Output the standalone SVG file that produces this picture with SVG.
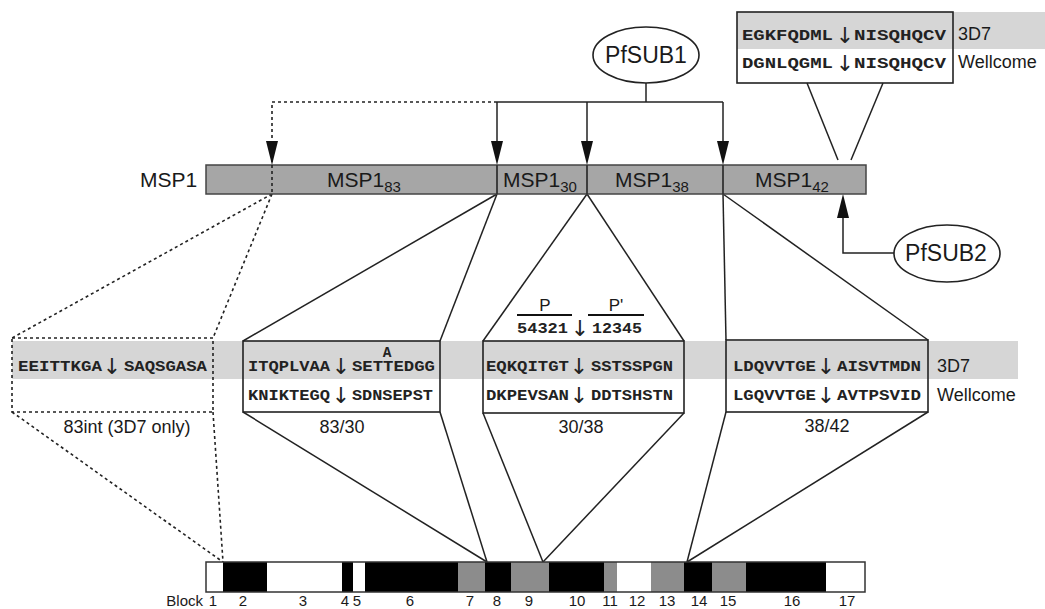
<svg xmlns="http://www.w3.org/2000/svg" width="1045" height="609" viewBox="0 0 1045 609">
<defs>
<style>
.lbl{font-family:"Liberation Sans",Arial,sans-serif;fill:#1a1a1a}
.seq{font-family:"Liberation Mono","Courier New",monospace;font-weight:bold;font-size:14.5px;fill:#222}
.arr{font-family:"DejaVu Sans","Liberation Sans",sans-serif;font-size:22px;fill:#222;text-anchor:middle}
.ln{stroke:#222;stroke-width:1.5;fill:none}
.dl{stroke:#222;stroke-width:1.6;fill:none;stroke-dasharray:3,3}
.box{fill:none;stroke:#222;stroke-width:1.6}
.band{fill:#d6d6d6}
.seg{fill:#a6a6a6;stroke:#444;stroke-width:1.5}
.ell{fill:#fff;stroke:#222;stroke-width:1.6}
.blk{stroke:none}
.k{fill:#000}.w{fill:#fff}.g{fill:#8c8c8c}
.bn{font-family:"Liberation Sans",Arial,sans-serif;font-size:15px;fill:#1a1a1a;text-anchor:middle}
.bt{font-family:"Liberation Sans",Arial,sans-serif;font-size:15px;fill:#1a1a1a;text-anchor:end}
</style>
</defs>
<rect width="1045" height="609" fill="#fff"/>

<rect class="band" x="737" y="12" width="308" height="37"/>
<rect class="band" x="12" y="341" width="1006" height="38"/>

<g id="connectors">
  <path class="ln" d="M646,83 V102"/>
  <path class="ln" d="M497,102 H723"/>
  <path class="dl" d="M497,102 H272 V165"/>
  <path d="M266,141 L278,141 L272,165 Z" fill="#111"/>
  <path class="ln" d="M497,102 V141"/>
  <path d="M491,141 L503,141 L497,165 Z" fill="#111"/>
  <path class="ln" d="M587,102 V141"/>
  <path d="M581,141 L593,141 L587,165 Z" fill="#111"/>
  <path class="ln" d="M723,102 V141"/>
  <path d="M717,141 L729,141 L723,165 Z" fill="#111"/>
  <path class="ln" d="M894,253 H843 V218"/>
  <path d="M837,218 L849,218 L843,194 Z" fill="#111"/>
  <path class="ln" d="M807,83 L838,160"/>
  <path class="ln" d="M883,83 L851,160"/>
  <path class="dl" d="M272,194 L12,338"/>
  <path class="dl" d="M272,194 L213,338"/>
  <path class="dl" d="M12,412 L223,562"/>
  <path class="dl" d="M213,412 L223,562"/>
  <path class="ln" d="M497,194 L243,341"/>
  <path class="ln" d="M497,194 L440,341"/>
  <path class="ln" d="M243,412 L487,562"/>
  <path class="ln" d="M440,412 L487,562"/>
  <path class="ln" d="M587,194 L483,341"/>
  <path class="ln" d="M587,194 L684,341"/>
  <path class="ln" d="M483,413 L543,562"/>
  <path class="ln" d="M684,413 L543,562"/>
  <path class="ln" d="M723,194 L726,340"/>
  <path class="ln" d="M723,194 L928,340"/>
  <path class="ln" d="M726,412 L687,562"/>
  <path class="ln" d="M928,412 L687,562"/>
</g>

<g id="msp1">
  <text class="lbl" x="140" y="187" font-size="21">MSP1</text>
  <rect class="seg" x="206" y="165" width="660" height="29"/>
  <path class="dl" d="M272,165 V194"/>
  <path stroke="#333" stroke-width="1.8" d="M497,165 V194 M587,165 V194 M723,165 V194"/>
  <text class="lbl" x="327" y="187" font-size="21">MSP1<tspan font-size="15" dy="5">83</tspan></text>
  <text class="lbl" x="503" y="187" font-size="21">MSP1<tspan font-size="15" dy="5">30</tspan></text>
  <text class="lbl" x="615" y="187" font-size="21">MSP1<tspan font-size="15" dy="5">38</tspan></text>
  <text class="lbl" x="755" y="187" font-size="21">MSP1<tspan font-size="15" dy="5">42</tspan></text>
</g>

<g id="pfsub1">
  <ellipse class="ell" cx="646" cy="55" rx="53" ry="28"/>
  <text class="lbl" x="646" y="63" font-size="23" text-anchor="middle">PfSUB1</text>
</g>

<g id="pfsub2">
  <ellipse class="ell" cx="947" cy="253.5" rx="53" ry="28.5"/>
  <text class="lbl" x="946" y="261" font-size="23" text-anchor="middle">PfSUB2</text>
</g>

<g id="box-top">
  <rect class="box" x="737" y="12" width="216" height="71"/>
  <text class="seq" x="742" y="40" font-size="13.5" textLength="91" lengthAdjust="spacingAndGlyphs">EGKFQDML</text>
  <text class="arr" x="845" y="43">↓</text>
  <text class="seq" x="854" y="40" font-size="13.5" textLength="92" lengthAdjust="spacingAndGlyphs">NISQHQCV</text>
  <text class="seq" x="742" y="68" font-size="13.5" textLength="91" lengthAdjust="spacingAndGlyphs">DGNLQGML</text>
  <text class="arr" x="845" y="71">↓</text>
  <text class="seq" x="854" y="68" font-size="13.5" textLength="92" lengthAdjust="spacingAndGlyphs">NISQHQCV</text>
  <text class="lbl" x="958" y="40" font-size="18">3D7</text>
  <text class="lbl" x="958" y="68" font-size="18">Wellcome</text>
</g>

<g id="box-83int">
  <rect x="12" y="338" width="201" height="74" fill="none" stroke="#222" stroke-width="1.6" stroke-dasharray="3,3"/>
  <text class="seq" x="18" y="371" textLength="84" lengthAdjust="spacingAndGlyphs">EEITTKGA</text>
  <text class="arr" x="112" y="374">↓</text>
  <text class="seq" x="124" y="371" textLength="83" lengthAdjust="spacingAndGlyphs">SAQSGASA</text>
  <text class="lbl" x="127" y="433" font-size="18" text-anchor="middle">83int (3D7 only)</text>
</g>

<g id="box-8330">
  <rect class="box" x="243" y="341" width="197" height="71"/>
  <text class="seq" x="387" y="357" text-anchor="middle">A</text>
  <text class="seq" x="248" y="371" textLength="82" lengthAdjust="spacingAndGlyphs">ITQPLVAA</text>
  <text class="arr" x="341" y="374">↓</text>
  <text class="seq" x="352" y="371" textLength="83" lengthAdjust="spacingAndGlyphs">SETTEDGG</text>
  <text class="seq" x="248" y="400" textLength="82" lengthAdjust="spacingAndGlyphs">KNIKTEGQ</text>
  <text class="arr" x="341" y="403">↓</text>
  <text class="seq" x="352" y="400" textLength="81" lengthAdjust="spacingAndGlyphs">SDNSEPST</text>
  <text class="lbl" x="342" y="433" font-size="18" text-anchor="middle">83/30</text>
</g>

<g id="box-3038">
  <text class="lbl" x="545" y="311" font-size="17" text-anchor="middle">P</text>
  <text class="lbl" x="616" y="311" font-size="17" text-anchor="middle">P'</text>
  <path stroke="#111" stroke-width="2" d="M517,315 H572 M588,315 H644"/>
  <text class="seq" x="517" y="333" textLength="51" lengthAdjust="spacingAndGlyphs">54321</text>
  <text class="arr" x="580" y="336">↓</text>
  <text class="seq" x="592" y="333" textLength="50" lengthAdjust="spacingAndGlyphs">12345</text>
  <rect class="box" x="483" y="341" width="201" height="72"/>
  <text class="seq" x="486" y="371" textLength="83" lengthAdjust="spacingAndGlyphs">EQKQITGT</text>
  <text class="arr" x="579" y="374">↓</text>
  <text class="seq" x="591" y="371" textLength="82" lengthAdjust="spacingAndGlyphs">SSTSSPGN</text>
  <text class="seq" x="486" y="400" textLength="83" lengthAdjust="spacingAndGlyphs">DKPEVSAN</text>
  <text class="arr" x="579" y="403">↓</text>
  <text class="seq" x="591" y="400" textLength="82" lengthAdjust="spacingAndGlyphs">DDTSHSTN</text>
  <text class="lbl" x="581" y="433" font-size="18" text-anchor="middle">30/38</text>
</g>

<g id="box-3842">
  <rect class="box" x="726" y="340" width="202" height="72"/>
  <text class="seq" x="733" y="371" textLength="83" lengthAdjust="spacingAndGlyphs">LDQVVTGE</text>
  <text class="arr" x="826" y="374">↓</text>
  <text class="seq" x="837" y="371" textLength="84" lengthAdjust="spacingAndGlyphs">AISVTMDN</text>
  <text class="seq" x="733" y="400" textLength="83" lengthAdjust="spacingAndGlyphs">LGQVVTGE</text>
  <text class="arr" x="826" y="403">↓</text>
  <text class="seq" x="837" y="400" textLength="84" lengthAdjust="spacingAndGlyphs">AVTPSVID</text>
  <text class="lbl" x="937" y="372" font-size="18">3D7</text>
  <text class="lbl" x="937" y="401" font-size="18">Wellcome</text>
  <text class="lbl" x="827" y="432" font-size="18" text-anchor="middle">38/42</text>
</g>

<g id="blocks">
  <rect class="blk w" x="206" y="562" width="17" height="30"/>
  <rect class="blk k" x="223" y="562" width="44" height="30"/>
  <rect class="blk w" x="267" y="562" width="75" height="30"/>
  <rect class="blk k" x="342" y="562" width="11" height="30"/>
  <rect class="blk w" x="353" y="562" width="12" height="30"/>
  <rect class="blk k" x="365" y="562" width="93" height="30"/>
  <rect class="blk g" x="458" y="562" width="27" height="30"/>
  <rect class="blk k" x="485" y="562" width="26" height="30"/>
  <rect class="blk g" x="511" y="562" width="38" height="30"/>
  <rect class="blk k" x="549" y="562" width="55" height="30"/>
  <rect class="blk g" x="604" y="562" width="13" height="30"/>
  <rect class="blk w" x="617" y="562" width="34" height="30"/>
  <rect class="blk g" x="651" y="562" width="33" height="30"/>
  <rect class="blk k" x="684" y="562" width="28" height="30"/>
  <rect class="blk g" x="712" y="562" width="34" height="30"/>
  <rect class="blk k" x="746" y="562" width="80" height="30"/>
  <rect class="blk w" x="826" y="562" width="39" height="30"/>
  <rect x="206" y="562" width="659" height="30" fill="none" stroke="#333" stroke-width="1.5"/>
  <text class="bt" x="203" y="606">Block</text>
  <text class="bn" x="213" y="606">1</text>
  <text class="bn" x="243" y="606">2</text>
  <text class="bn" x="303" y="606">3</text>
  <text class="bn" x="345" y="606">4</text>
  <text class="bn" x="357" y="606">5</text>
  <text class="bn" x="410" y="606">6</text>
  <text class="bn" x="470" y="606">7</text>
  <text class="bn" x="497" y="606">8</text>
  <text class="bn" x="529" y="606">9</text>
  <text class="bn" x="577" y="606">10</text>
  <text class="bn" x="610" y="606">11</text>
  <text class="bn" x="637" y="606">12</text>
  <text class="bn" x="667" y="606">13</text>
  <text class="bn" x="699" y="606">14</text>
  <text class="bn" x="728" y="606">15</text>
  <text class="bn" x="792" y="606">16</text>
  <text class="bn" x="847" y="606">17</text>
</g>
</svg>
